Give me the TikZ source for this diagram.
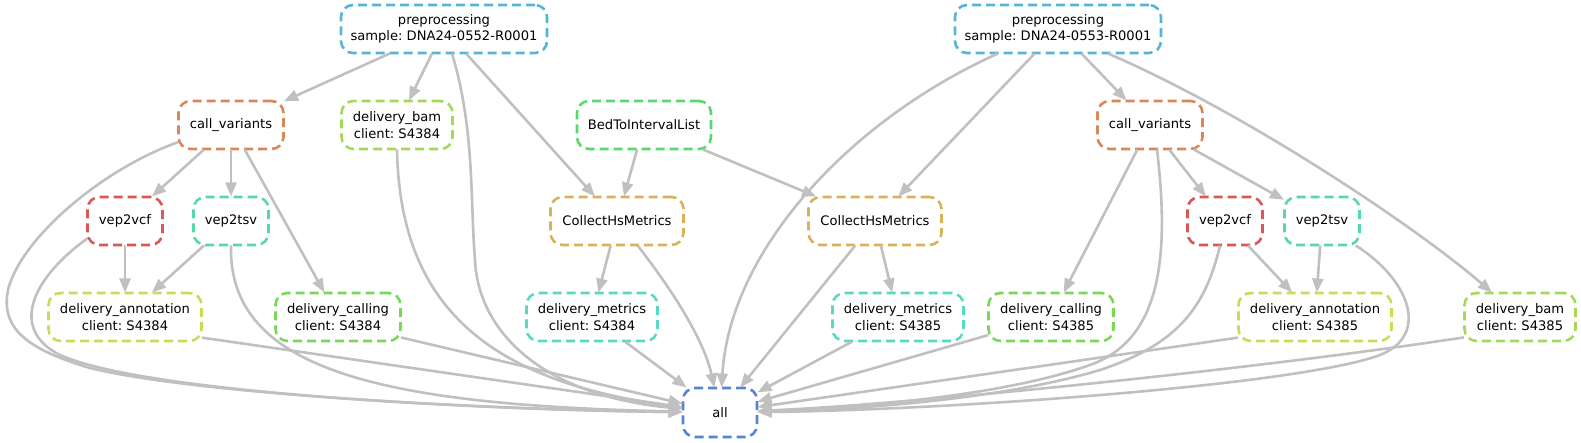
\documentclass[tikz,border=0pt]{standalone}
\usepackage{fontspec}
\setmainfont{DejaVu Sans}
\usetikzlibrary{arrows.meta}
\definecolor{cpre}{HTML}{57B4D9}
\definecolor{call}{HTML}{5782D9}
\definecolor{ccv}{HTML}{D98757}
\definecolor{cdb}{HTML}{A3D957}
\definecolor{cbed}{HTML}{57D96D}
\definecolor{cvcf}{HTML}{D95757}
\definecolor{ctsv}{HTML}{57D9A3}
\definecolor{cchm}{HTML}{D9B257}
\definecolor{cda}{HTML}{CED957}
\definecolor{cdc}{HTML}{77D957}
\definecolor{cdm}{HTML}{57D9C3}
\definecolor{egray}{HTML}{C0C0C0}
\frenchspacing
\begin{document}
\begin{tikzpicture}[x=1pt,y=-1pt,
  rule/.style={draw=#1, line width=2.6pt, dash pattern=on 9pt off 5pt,
    rounded corners=12pt, minimum height=48pt, inner sep=0pt, outer sep=0.5pt,
    align=center, font=\fontsize{13.1}{16.5}\selectfont\frenchspacing, text=black},
  edge/.style={draw=egray, line width=2.6pt, -{Triangle[length=14pt,width=11pt]}},
]
\useasboundingbox (0,0) rectangle (1581,443);
% row 1
\node[rule=cpre, minimum width=206pt] (pre1) at (444,29) {preprocessing\\sample: DNA24-0552-R0001};
\node[rule=cpre, minimum width=206pt] (pre2) at (1058,29) {preprocessing\\sample: DNA24-0553-R0001};
% row 2
\node[rule=ccv, minimum width=105pt] (cv1) at (231,125) {call\_variants};
\node[rule=cdb, minimum width=111pt] (db1) at (397,125) {delivery\_bam\\client: S4384};
\node[rule=cbed, minimum width=134pt] (bed) at (644,125) {BedToIntervalList};
\node[rule=ccv, minimum width=105pt] (cv2) at (1150,125) {call\_variants};
% row 3
\node[rule=cvcf, minimum width=75pt] (v1) at (125,221) {vep2vcf};
\node[rule=ctsv, minimum width=75pt] (t1) at (231,221) {vep2tsv};
\node[rule=cchm, minimum width=133pt] (chm1) at (617,221) {CollectHsMetrics};
\node[rule=cchm, minimum width=133pt] (chm2) at (875,221) {CollectHsMetrics};
\node[rule=cvcf, minimum width=75pt] (v2) at (1225,221) {vep2vcf};
\node[rule=ctsv, minimum width=75pt] (t2) at (1322,221) {vep2tsv};
% row 4
\node[rule=cda, minimum width=153pt] (da1) at (125,317) {delivery\_annotation\\client: S4384};
\node[rule=cdc, minimum width=125pt] (dc1) at (338,317) {delivery\_calling\\client: S4384};
\node[rule=cdm, minimum width=131pt] (dm1) at (592,317) {delivery\_metrics\\client: S4384};
\node[rule=cdm, minimum width=131pt] (dm2) at (898,317) {delivery\_metrics\\client: S4385};
\node[rule=cdc, minimum width=125pt] (dc2) at (1051,317) {delivery\_calling\\client: S4385};
\node[rule=cda, minimum width=153pt] (da2) at (1315,317) {delivery\_annotation\\client: S4385};
\node[rule=cdb, minimum width=111pt] (db2) at (1520,317) {delivery\_bam\\client: S4385};
% row 5
\node[rule=call, minimum width=74pt, minimum height=49pt] (all) at (720,412.5) {all};

% straight edges
\draw[edge] (pre1) -- (cv1);
\draw[edge] (pre1) -- (db1);
\draw[edge] (pre1) -- (chm1);
\draw[edge] (bed) -- (chm1);
\draw[edge] (bed) -- (chm2);
\draw[edge] (pre2) -- (chm2);
\draw[edge] (pre2) -- (cv2);
\draw[edge] ([xshift=50pt]pre2.south) .. controls (1250,115) and (1420,230) .. (db2);
\draw[edge] (cv1) -- (v1);
\draw[edge] (cv1) -- (t1);
\draw[edge] (cv1) -- (dc1);
\draw[edge] (v1) -- (da1);
\draw[edge] (t1) -- (da1);
\draw[edge] (chm1) -- (dm1);
\draw[edge] (chm2) -- (dm2);
\draw[edge] (cv2) -- (dc2);
\draw[edge] (cv2) -- (v2);
\draw[edge] (cv2) -- (t2);
\draw[edge] (v2) -- (da2);
\draw[edge] (t2) -- (da2);

% edges into all
\draw[edge] (cv1.198) .. controls (100,170) and (20,240) .. (8,290)
  .. controls (0,330) and (30,350) .. (90,368)
  .. controls (200,395) and (500,410) .. (all);
\draw[edge] (v1.205) .. controls (30,280) and (10,330) .. (60,355)
  .. controls (150,395) and (500,410) .. (all);
\draw[edge] (t1.south) .. controls (228,370) and (380,405) .. (all);
\draw[edge] (db1.south) .. controls (400,300) and (480,380) .. (all);
\draw[edge] ([xshift=8pt]pre1.south) .. controls (475,130) and (470,200) .. (475,260)
  .. controls (478,330) and (540,395) .. (all);
\draw[edge] (da1.-15) -- (all);
\draw[edge] (dc1.-18) -- (all);
\draw[edge] (dm1) -- (all);
\draw[edge] (chm1.-50) .. controls (680,300) and (705,345) .. (all);
\draw[edge] ([xshift=-60pt]pre2.south) .. controls (850,120) and (730,250) .. (all);
\draw[edge] (chm2) -- (all);
\draw[edge] (dm2) -- (all);
\draw[edge] (dc2) -- (all);
\draw[edge] ([xshift=7pt]cv2.south) .. controls (1170,260) and (1160,340) .. (1090,365)
  .. controls (1000,397) and (850,408) .. (all);
\draw[edge] ([xshift=-5pt]v2.south) .. controls (1205,310) and (1175,345) .. (1100,370)
  .. controls (1000,400) and (850,410) .. (all);
\draw[edge] (t2.-36) .. controls (1410,280) and (1430,335) .. (1380,355)
  .. controls (1300,385) and (950,410) .. (all);
\draw[edge] (da2.195) -- (all);
\draw[edge] (db2.200) .. controls (1250,370) and (900,405) .. (all);
\end{tikzpicture}
\end{document}
